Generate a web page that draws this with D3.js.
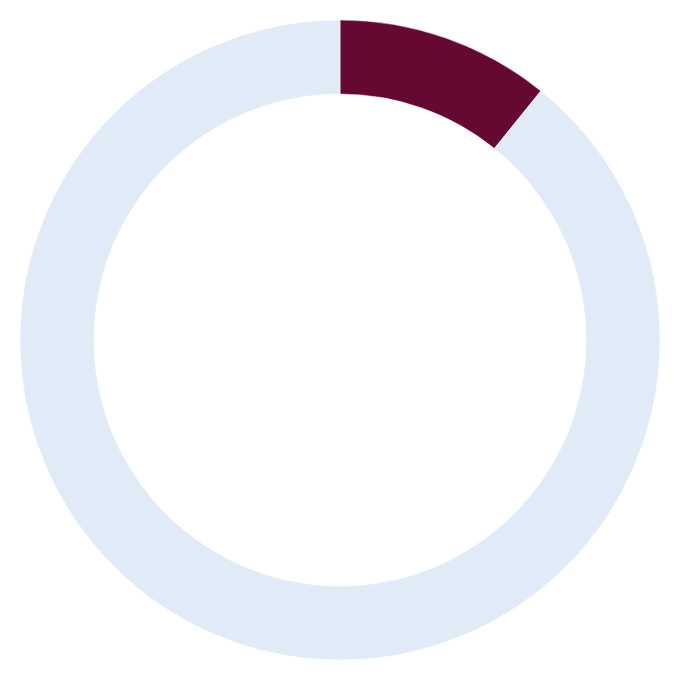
<!DOCTYPE html>
<html>
<head>
<meta charset="utf-8">
<script src="https://cdn.jsdelivr.net/npm/d3@7"></script>
<style>
  body { margin: 0; background: #fff; }
</style>
</head>
<body>
<svg id="chart"></svg>
<script>
const width = 680;
const height = 680;
const outerRadius = 320;
const innerRadius = 246;

const labels = ['value', 'rest'];
const values = [10.8, 89.2];
const colors = ['#650933', '#E1EBF7'];

const svg = d3.select('#chart')
            .attr('width', width)
            .attr('height', height);

const g = svg.append('g').attr('transform', `translate(${width/2}, ${height/2})`);

const color = d3.scaleOrdinal().domain(labels).range(colors);

const pie = d3.pie().sort(null).value(d => d.value);
const arc = d3.arc().innerRadius(innerRadius).outerRadius(outerRadius);

const data = labels.map((l, i) => ({label: l, value: values[i]}));

g.selectAll('path')
  .data(pie(data))
  .enter().append('path')
  .attr('d', arc)
  .attr('fill', d => color(d.data.label))
  .attr('stroke', '#fff')
  .attr('stroke-width', 0.5);
</script>
</body>
</html>
